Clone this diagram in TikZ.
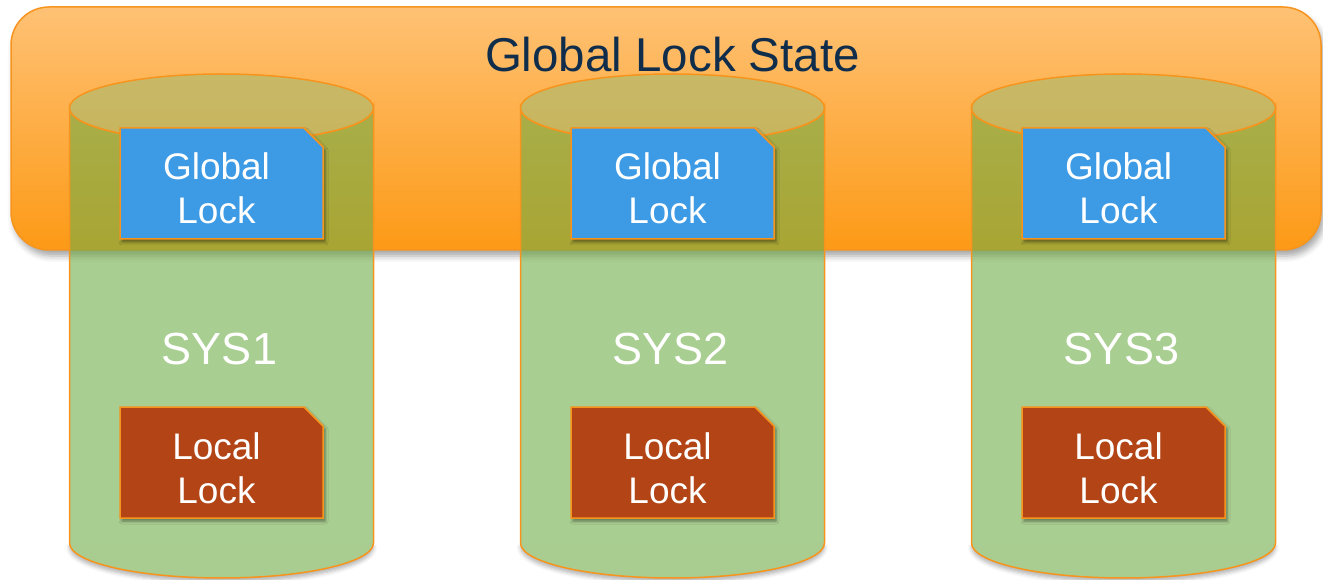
\documentclass[tikz,border=0pt]{standalone}
\usepackage{fontspec}
\setmainfont{Liberation Sans}
\usetikzlibrary{shadows.blur}

\definecolor{edgeorange}{RGB}{247,148,29}
\definecolor{paneltop}{RGB}{254,193,116}
\definecolor{panelbottom}{RGB}{253,154,22}
\definecolor{titlenavy}{RGB}{16,46,76}
\definecolor{cangreen}{RGB}{112,173,71}
\definecolor{canlid}{RGB}{164,187,113}
\definecolor{lockblue}{RGB}{61,155,230}
\definecolor{lockrust}{RGB}{179,68,21}

\begin{document}
\begin{tikzpicture}[x=1pt,y=1pt,
  panel/.style={draw=edgeorange, line width=1.5pt, rounded corners=38pt,
    top color=paneltop, bottom color=panelbottom,
    blur shadow={shadow xshift=3pt, shadow yshift=-6pt, shadow blur radius=6pt, shadow opacity=35}},
  canbase/.style={fill=white,
    blur shadow={shadow xshift=0pt, shadow yshift=-4pt, shadow blur radius=4pt, shadow opacity=30}},
  canbody/.style={fill=cangreen, fill opacity=0.6, draw=edgeorange, line width=1.5pt},
  canlidstyle/.style={fill=canlid, fill opacity=0.6, draw=edgeorange, line width=1.5pt},
  lockframe/.style={minimum width=203pt, minimum height=111pt, inner sep=0pt, outer sep=0pt},
  snipbox/.style={draw=edgeorange, line width=1.5pt, line join=miter,
    blur shadow={shadow xshift=2pt, shadow yshift=-3pt, shadow blur radius=3pt, shadow opacity=45}},
  locktext/.style={text=white, align=center, inner sep=0pt,
    font=\fontsize{37}{44}\selectfont},
  systext/.style={text=white, inner sep=0pt, anchor=base,
    font=\fontsize{45}{54}\selectfont},
  titletext/.style={text=titlenavy, inner sep=0pt, anchor=base,
    font=\fontsize{47.5}{57}\selectfont}
]
\useasboundingbox (0,0) rectangle (1323,579);

% shared lock-state panel
\draw[panel] (11,329) rectangle (1321,572);
\node[titletext] (title) at (672.5,507) {Global Lock State};

% one cylinder per system, each holding a global and a local lock
\foreach \i/\cx in {1/221.5,2/672.5,3/1123.5} {
  % soft shadow under the rounded foot of the cylinder
  \path[canbase] (\cx-152,36)
    arc[start angle=180, end angle=360, x radius=152, y radius=35] -- cycle;
  \draw[canbody] (\cx-152,471) -- (\cx-152,36)
    arc[start angle=180, end angle=360, x radius=152, y radius=35]
    -- (\cx+152,471)
    arc[start angle=0, end angle=-180, x radius=152, y radius=34] -- cycle;
  \draw[canlidstyle] (\cx,471) ellipse[x radius=152, y radius=34];
  % global lock: rectangle with its top-right corner snipped off
  \node[lockframe] (g\i) at (\cx,395.5) {};
  \draw[snipbox, fill=lockblue] (g\i.south west) -- (g\i.north west)
    -- ([xshift=-19pt]g\i.north east) -- ([yshift=-19pt]g\i.north east)
    -- (g\i.south east) -- cycle;
  \node[locktext] (gt\i) at (\cx-5,390.25) {Global\\Lock};
  \node[systext] (s\i) at (\cx-2,214) {SYS\i};
  % local lock
  \node[lockframe] (l\i) at (\cx,116.5) {};
  \draw[snipbox, fill=lockrust] (l\i.south west) -- (l\i.north west)
    -- ([xshift=-19pt]l\i.north east) -- ([yshift=-19pt]l\i.north east)
    -- (l\i.south east) -- cycle;
  \node[locktext] (lt\i) at (\cx-5,110.25) {Local\\Lock};
}
\end{tikzpicture}
\end{document}
